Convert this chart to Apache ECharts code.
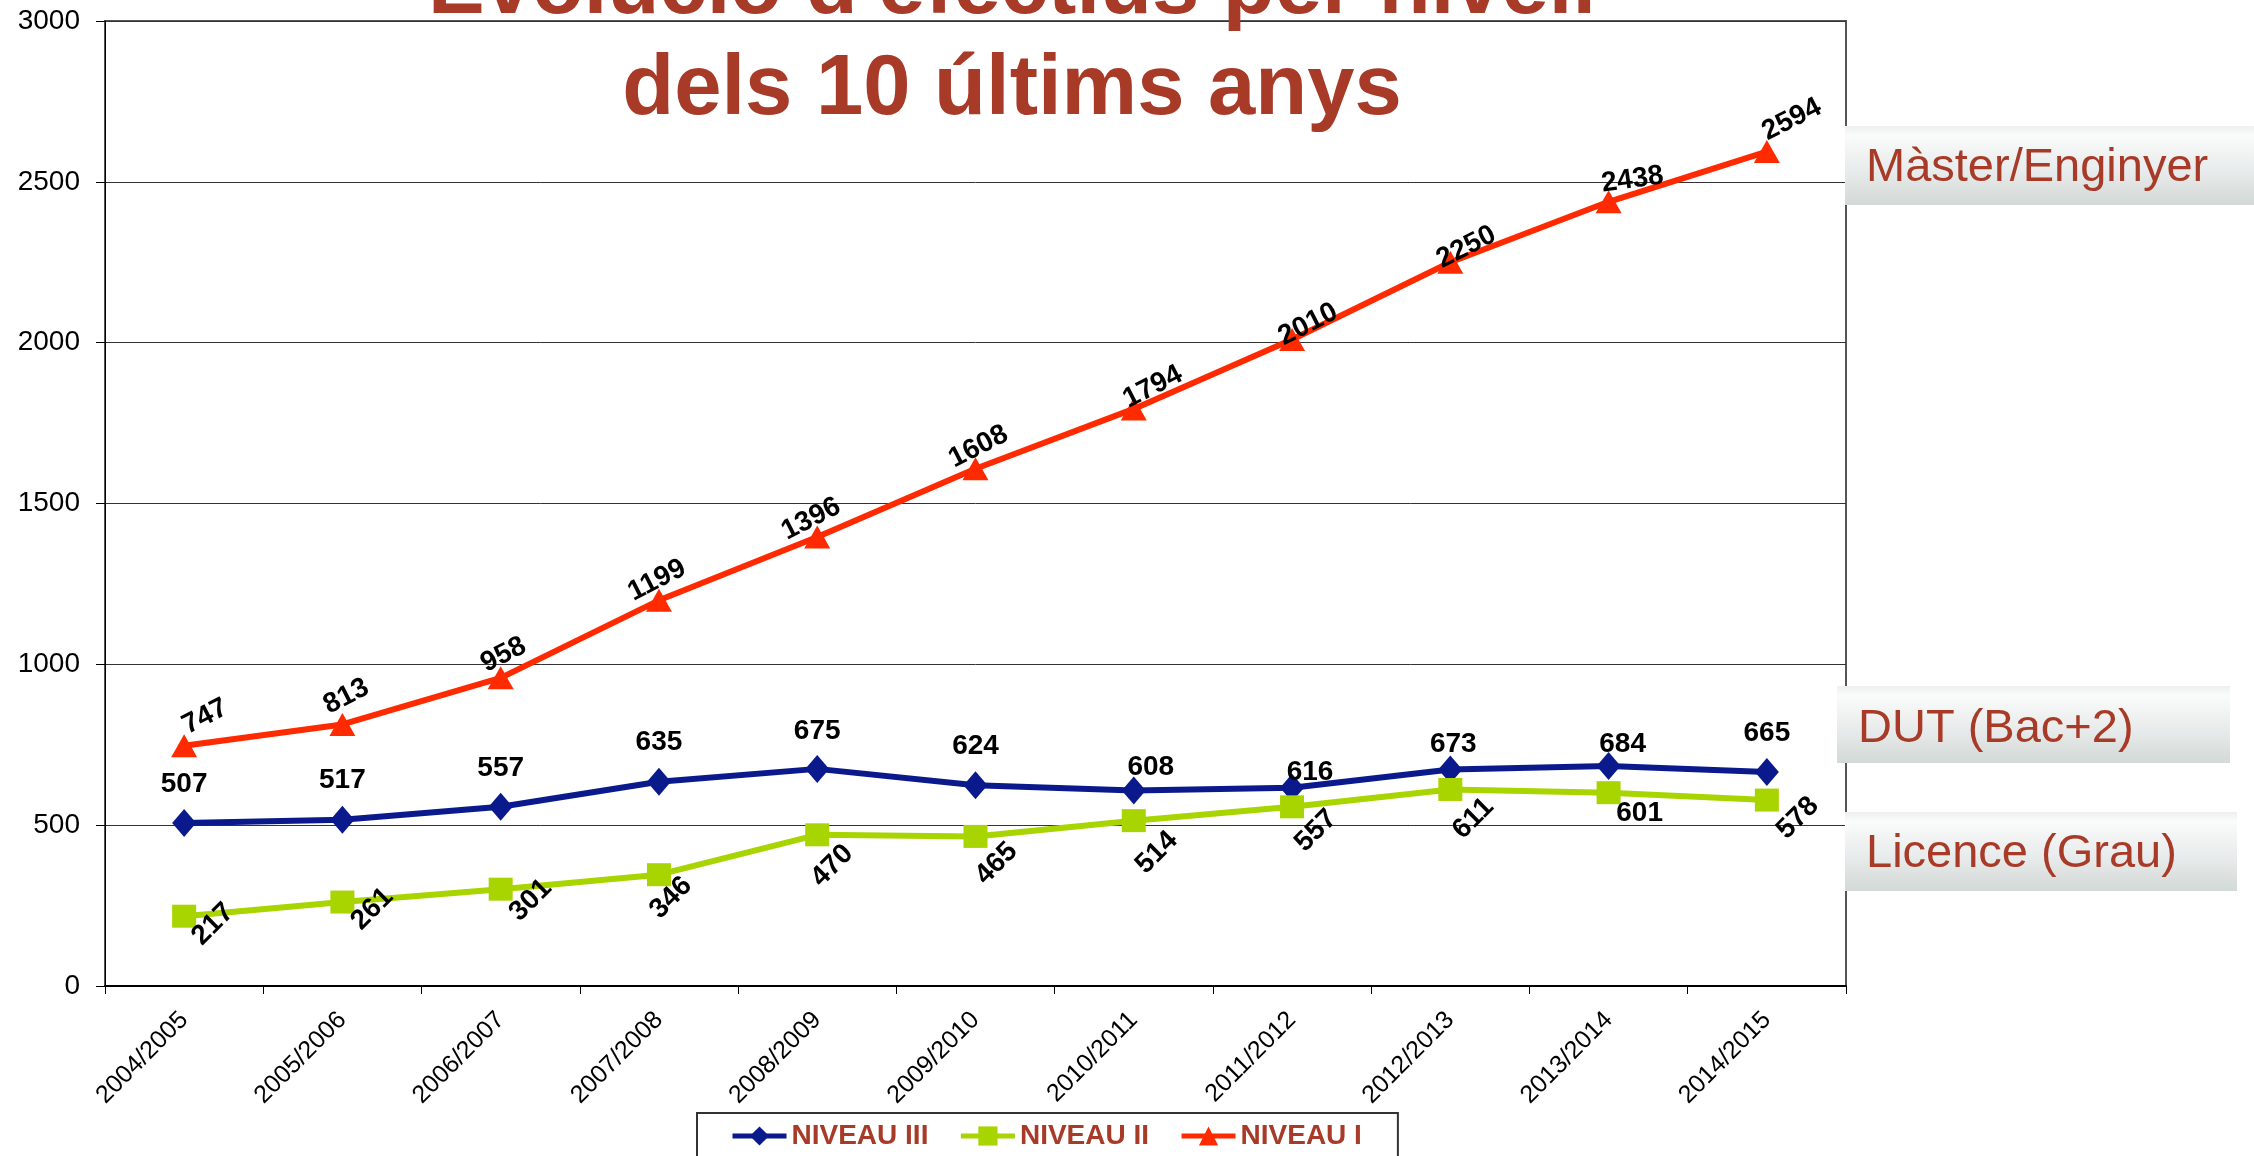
<!DOCTYPE html>
<html>
<head>
<meta charset="utf-8">
<script src="https://cdn.jsdelivr.net/npm/echarts@6/dist/echarts.min.js"></script>
<style>
    html, body { margin: 0; padding: 0; background: #fff; }
    #chart { width: 2254px; height: 1156px; }
</style>
</head>
<body>
<div id="chart"></div>
<script>
const years = ['2004/2005', '2005/2006', '2006/2007', '2007/2008', '2008/2009', '2009/2010',
    '2010/2011', '2011/2012', '2012/2013', '2013/2014', '2014/2015'];
const niveauIII = [507, 517, 557, 635, 675, 624, 608, 616, 673, 684, 665];
const niveauII = [217, 261, 301, 346, 470, 465, 514, 557, 611, 601, 578];
const niveauI = [747, 813, 958, 1199, 1396, 1608, 1794, 2010, 2250, 2438, 2594];
const seriesNames = ['NIVEAU III', 'NIVEAU II', 'NIVEAU I'];
const sideLabels = ['Màster/Enginyer', 'DUT (Bac+2)', 'Licence (Grau)'];
const titleLines = ["Evolució d'efectius per nivell", 'dels 10 últims anys'];
const yMin = 0;
const yMax = 3000;
const yStep = 500;

// where each value label sits, in screen px from its marker: [dx, dy, rotation]
const placeIII = [[0, -39, 0], [0, -39, 0], [0, -39, 0], [0, -39, 0], [0, -38, 0], [0, -39, 0],
    [17, -23, 0], [18, -16, 0], [3, -25, 0], [14, -22, 0], [0, -39, 0]];
const placeII = [[29, 8, 45], [30, 7, 45], [30, 11, 45], [12, 23, 45], [15, 31, 45], [21, 27, 45],
    [23, 32, 45], [24, 24, 45], [23, 29, 45], [31, 21, 0], [31, 18, 45]];
const placeI = [[21, -29, 27], [4, -28, 27], [3, -23, 27], [-2, -20, 27], [-6, -18, 27], [3, -22, 27],
    [19, -22, 27], [16, -15, 27], [16, -15, 27], [24, -22, 8], [25, -32, 27]];

const brown = '#a83a28';
const font = '"Liberation Sans", Arial, sans-serif';

// label offsets are applied in the rotated frame, so turn the screen shift back
function labelAt(place) {
    const r = place[2] * Math.PI / 180;
    const c = Math.cos(r);
    const s = Math.sin(r);
    return {
        rotate: place[2],
        offset: [c * place[0] - s * place[1], s * place[0] + c * place[1]]
    };
}

function withLabels(values, places) {
    return values.map((v, i) => ({ value: v, label: labelAt(places[i]) }));
}

const labelStyle = {
    show: true,
    position: 'inside',
    color: '#000',
    fontFamily: font,
    fontWeight: 'bold',
    fontSize: 28
};

function lineSeries(name, values, places, color, symbol, size) {
    return {
        name: name,
        type: 'line',
        data: withLabels(values, places),
        symbol: symbol,
        symbolSize: size,
        lineStyle: { color: color, width: 6 },
        itemStyle: { color: color },
        label: labelStyle,
        emphasis: { disabled: true },
        animation: false
    };
}

const sideBoxes = [
    { x: 1845, y: 126, w: 409, h: 79, tx: 1866, ty: 168 },
    { x: 1837, y: 686, w: 393, h: 77, tx: 1858, ty: 729 },
    { x: 1845, y: 812, w: 392, h: 79, tx: 1866, ty: 854 }
];

const graphics = [];
titleLines.forEach((line, i) => {
    graphics.push({
        type: 'text',
        x: 1012,
        y: i === 0 ? -10 : 91,
        z: 100,
        style: {
            text: line,
            font: 'bold 85px ' + font,
            fill: brown,
            align: 'center',
            verticalAlign: 'middle'
        }
    });
});
sideBoxes.forEach((b, i) => {
    graphics.push({
        type: 'rect',
        z: 100,
        shape: { x: b.x, y: b.y, width: b.w, height: b.h },
        style: {
            fill: {
                type: 'linear', x: 0, y: 0, x2: 0, y2: 1,
                colorStops: [
                    { offset: 0, color: '#eef0f0' },
                    { offset: 0.12, color: '#fafbfb' },
                    { offset: 0.55, color: '#e9ecec' },
                    { offset: 1, color: '#d2d9d7' }
                ]
            }
        }
    });
    graphics.push({
        type: 'text',
        x: b.tx,
        y: b.ty,
        z: 101,
        style: {
            text: sideLabels[i],
            font: '47px ' + font,
            fill: brown,
            align: 'left',
            verticalAlign: 'middle'
        }
    });
});

const chart = echarts.init(document.getElementById('chart'));
chart.setOption({
    backgroundColor: '#fff',
    animation: false,
    grid: {
        left: 105,
        right: 408,
        top: 21,
        bottom: 170,
        show: true,
        borderColor: '#555',
        borderWidth: 2,
        backgroundColor: 'transparent'
    },
    legend: {
        data: seriesNames,
        left: 697,
        top: 1113,
        orient: 'horizontal',
        padding: [9, 36, 30, 33],
        itemGap: 30,
        itemWidth: 54,
        itemHeight: 24,
        lineStyle: { width: 5 },
        borderColor: '#333',
        borderWidth: 2,
        textStyle: { color: brown, fontFamily: font, fontWeight: 'bold', fontSize: 28 }
    },
    xAxis: {
        type: 'category',
        data: years,
        boundaryGap: true,
        axisLine: { lineStyle: { color: '#000', width: 2 } },
        axisTick: { show: true, length: 8, lineStyle: { color: '#000' } },
        axisLabel: {
            interval: 0,
            rotate: 45,
            margin: 30,
            color: '#000',
            fontFamily: font,
            fontSize: 25
        },
        splitLine: { show: false }
    },
    yAxis: {
        type: 'value',
        min: yMin,
        max: yMax,
        interval: yStep,
        axisLine: { show: true, lineStyle: { color: '#000', width: 1 } },
        axisTick: { show: true, length: 9, lineStyle: { color: '#000' } },
        axisLabel: {
            margin: 25,
            color: '#000',
            fontFamily: font,
            fontSize: 28,
            formatter: (v) => String(v)
        },
        splitLine: { show: true, lineStyle: { color: '#333', width: 1 } }
    },
    series: [
        lineSeries(seriesNames[0], niveauIII, placeIII, '#0a1a8c', 'diamond', [24, 28]),
        lineSeries(seriesNames[1], niveauII, placeII, '#a8d400', 'rect', [24, 23]),
        lineSeries(seriesNames[2], niveauI, placeI, '#ff2a00', 'triangle', [26, 23])
    ],
    graphic: graphics
});
</script>
</body>
</html>
